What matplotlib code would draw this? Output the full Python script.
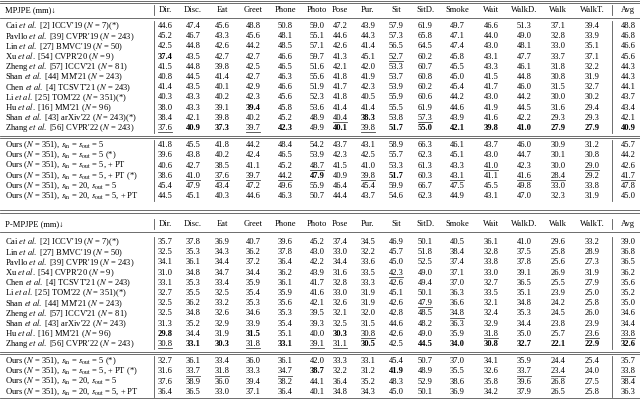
import matplotlib
matplotlib.use("Agg")
import matplotlib.pyplot as plt

plt.rcParams['font.family'] = ['Liberation Serif', 'DejaVu Serif']
plt.rcParams['mathtext.fontset'] = 'stix'

columns = ["Dir.", "Disc.", "Eat", "Greet", "Phone", "Photo", "Pose", "Pur.", "Sit", "SitD.",
           "Smoke", "Wait", "WalkD.", "Walk", "WalkT.", "Avg"]

EA = r"$\it{et\ al.}$"
def ref(name, num, venue, n, star=False):
    return f"{name} {EA} [{num}] {venue} ($N$ = {n})" + ("(*)" if star else "")
def ours(a, b, pt=False, star=False):
    if a == b:
        s = f"Ours ($N$ = 351), $s_{{\\rm in}}$ = $s_{{\\rm out}}$ = {a}"
    else:
        s = f"Ours ($N$ = 351), $s_{{\\rm in}}$ = {a}, $s_{{\\rm out}}$ = {b}"
    if pt: s += ", + PT"
    if star: s += " (*)"
    return s

mpjpe_methods = [ref("Cai", 2, "ICCV'19", 7, True), ref("Pavllo", 39, "CVPR'19", 243),
                 ref("Lin", 27, "BMVC'19", 50), ref("Xu", 54, "CVPR'20", 9),
                 ref("Zheng", 57, "ICCV'21", 81), ref("Shan", 44, "MM'21", 243),
                 ref("Chen", 4, "TCSVT'21", 243), ref("Li", 25, "TOM'22", 351, True),
                 ref("Hu", 16, "MM'21", 96), ref("Shan", 43, "arXiv'22", 243, True),
                 ref("Zhang", 56, "CVPR'22", 243),
                 ours(5, 5), ours(5, 5, star=True), ours(5, 5, pt=True), ours(5, 5, pt=True, star=True),
                 ours(20, 5), ours(20, 5, pt=True)]
mpjpe_values = [
 [44.6,47.4,45.6,48.8,50.8,59.0,47.2,43.9,57.9,61.9,49.7,46.6,51.3,37.1,39.4,48.8],
 [45.2,46.7,43.3,45.6,48.1,55.1,44.6,44.3,57.3,65.8,47.1,44.0,49.0,32.8,33.9,46.8],
 [42.5,44.8,42.6,44.2,48.5,57.1,42.6,41.4,56.5,64.5,47.4,43.0,48.1,33.0,35.1,46.6],
 [37.4,43.5,42.7,42.7,46.6,59.7,41.3,45.1,52.7,60.2,45.8,43.1,47.7,33.7,37.1,45.6],
 [41.5,44.8,39.8,42.5,46.5,51.6,42.1,42.0,53.3,60.7,45.5,43.3,46.1,31.8,32.2,44.3],
 [40.8,44.5,41.4,42.7,46.3,55.6,41.8,41.9,53.7,60.8,45.0,41.5,44.8,30.8,31.9,44.3],
 [41.4,43.5,40.1,42.9,46.6,51.9,41.7,42.3,53.9,60.2,45.4,41.7,46.0,31.5,32.7,44.1],
 [40.3,43.3,40.2,42.3,45.6,52.3,41.8,40.5,55.9,60.6,44.2,43.0,44.2,30.0,30.2,43.7],
 [38.0,43.3,39.1,39.4,45.8,53.6,41.4,41.4,55.5,61.9,44.6,41.9,44.5,31.6,29.4,43.4],
 [38.4,42.1,39.8,40.2,45.2,48.9,40.4,38.3,53.8,57.3,43.9,41.6,42.2,29.3,29.3,42.1],
 [37.6,40.9,37.3,39.7,42.3,49.9,40.1,39.8,51.7,55.0,42.1,39.8,41.0,27.9,27.9,40.9],
 [41.8,45.5,41.8,44.2,48.4,54.2,43.7,43.1,58.9,66.3,46.1,43.7,46.0,30.9,31.2,45.7],
 [39.6,43.8,40.2,42.4,46.5,53.9,42.3,42.5,55.7,62.3,45.1,43.0,44.7,30.1,30.8,44.2],
 [40.6,42.7,38.5,41.1,45.2,48.7,41.5,41.0,53.3,61.3,43.3,41.0,42.3,30.0,29.0,42.6],
 [38.6,41.0,37.6,39.7,44.2,47.9,40.9,39.8,51.7,60.3,43.1,41.1,41.6,28.4,29.2,41.7],
 [45.4,47.9,43.4,47.2,49.6,55.9,46.4,45.4,59.9,66.7,47.5,45.5,49.8,33.0,33.8,47.8],
 [44.5,45.1,40.3,44.6,46.3,50.7,44.4,43.7,54.6,62.3,44.9,43.1,47.0,32.3,31.9,45.0]]
mpjpe_bold = [(3,0),(8,3),(9,7),(10,1),(10,2),(10,4),(10,6),(10,8),(10,9),(10,10),(10,11),
              (10,12),(10,13),(10,14),(10,15),(14,5),(14,8)]
mpjpe_under = [(3,8),(9,6),(9,9),(10,0),(10,3),(10,7),(13,5),(13,11),(13,14),
               (14,1),(14,2),(14,3),(14,4),(14,7),(14,10),(14,12),(14,13),(14,15)]

pmpjpe_methods = [ref("Cai", 2, "ICCV'19", 7, True), ref("Lin", 27, "BMVC'19", 50),
                  ref("Pavllo", 39, "CVPR'19", 243), ref("Xu", 54, "CVPR'20", 9),
                  ref("Chen", 4, "TCSVT'21", 243), ref("Li", 25, "TOM'22", 351, True),
                  ref("Shan", 44, "MM'21", 243), ref("Zheng", 57, "ICCV'21", 81),
                  ref("Shan", 43, "arXiv'22", 243), ref("Hu", 16, "MM'21", 96),
                  ref("Zhang", 56, "CVPR'22", 243),
                  ours(5, 5, star=True), ours(5, 5, pt=True, star=True), ours(20, 5), ours(20, 5, pt=True)]
pmpjpe_values = [
 [35.7,37.8,36.9,40.7,39.6,45.2,37.4,34.5,46.9,50.1,40.5,36.1,41.0,29.6,33.2,39.0],
 [32.5,35.3,34.3,36.2,37.8,43.0,33.0,32.2,45.7,51.8,38.4,32.8,37.5,25.8,28.9,36.8],
 [34.1,36.1,34.4,37.2,36.4,42.2,34.4,33.6,45.0,52.5,37.4,33.8,37.8,25.6,27.3,36.5],
 [31.0,34.8,34.7,34.4,36.2,43.9,31.6,33.5,42.3,49.0,37.1,33.0,39.1,26.9,31.9,36.2],
 [33.1,35.3,33.4,35.9,36.1,41.7,32.8,33.3,42.6,49.4,37.0,32.7,36.5,25.5,27.9,35.6],
 [32.7,35.5,32.5,35.4,35.9,41.6,33.0,31.9,45.1,50.1,36.3,33.5,35.1,23.9,25.0,35.2],
 [32.5,36.2,33.2,35.3,35.6,42.1,32.6,31.9,42.6,47.9,36.6,32.1,34.8,24.2,25.8,35.0],
 [32.5,34.8,32.6,34.6,35.3,39.5,32.1,32.0,42.8,48.5,34.8,32.4,35.3,24.5,26.0,34.6],
 [31.3,35.2,32.9,33.9,35.4,39.3,32.5,31.5,44.6,48.2,36.3,32.9,34.4,23.8,23.9,34.4],
 [29.8,34.4,31.9,31.5,35.1,40.0,30.3,30.8,42.6,49.0,35.9,31.8,35.0,25.7,23.6,33.8],
 [30.8,33.1,30.3,31.8,33.1,39.1,31.1,30.5,42.5,44.5,34.0,30.8,32.7,22.1,22.9,32.6],
 [32.7,36.1,33.4,36.0,36.1,42.0,33.3,33.1,45.4,50.7,37.0,34.1,35.9,24.4,25.4,35.7],
 [31.6,33.7,31.8,33.3,34.7,38.7,32.2,31.2,41.9,48.9,35.5,32.6,33.7,23.4,24.0,33.8],
 [37.6,38.9,36.0,39.4,38.2,44.1,36.4,35.2,48.3,52.9,38.6,35.8,39.6,26.8,27.5,38.4],
 [36.4,36.5,33.0,37.1,36.4,40.1,34.8,34.3,45.0,50.1,36.9,34.2,37.9,26.5,25.8,36.3]]
pmpjpe_bold = [(9,0),(9,3),(9,6),(10,1),(10,2),(10,4),(10,7),(10,9),(10,10),(10,11),(10,12),
               (10,13),(10,14),(10,15),(12,5),(12,8)]
pmpjpe_under = [(3,8),(6,9),(7,10),(9,7),(9,11),(9,14),(9,15),(10,0),(10,3),(10,5),(10,6),
                (12,1),(12,2),(12,4),(12,12),(12,13),(12,15)]

W, H = 640, 404
fig = plt.figure(figsize=(W/100, H/100), dpi=100)
ax = fig.add_axes([0, 0, 1, 1])
ax.set_xlim(0, W); ax.set_ylim(H, 0); ax.axis('off')

col_x = [165, 193, 222, 253, 285, 317, 340, 368, 396, 425, 457, 491, 524, 558, 592, 628]
sep_x, avg_sep = 154, 612
FS = 6.1
GRAY = '#555555'

def section(title, methods, values, bold, under, y_head, y_first, n_ref, step, y_top_line, gap):
    ax.plot([0, W], [y_top_line, y_top_line], color=GRAY, lw=0.6)
    ax.plot([0, W], [y_top_line+2.5, y_top_line+2.5], color=GRAY, lw=0.6)
    ax.text(5, y_head, title, fontsize=FS, va='center', ha='left')
    for c, x in zip(columns, col_x):
        ax.text(x, y_head, c, fontsize=FS, va='center', ha='center')
    y_line1 = y_head + 8
    ax.plot([0, W], [y_line1, y_line1], color=GRAY, lw=0.6)
    ys = []
    y = y_first
    for i in range(len(methods)):
        if i == n_ref:
            ysep = y - step/2 + gap/2 - 1
            ax.plot([0, W], [ysep, ysep], color=GRAY, lw=0.6)
            ax.plot([0, W], [ysep+2, ysep+2], color=GRAY, lw=0.6)
            y += gap
        ys.append(y)
        y += step
    for i, (m, row) in enumerate(zip(methods, values)):
        yy = ys[i]
        ax.text(5, yy, m, fontsize=FS, va='center', ha='left')
        for j, v in enumerate(row):
            b = (i, j) in bold
            ax.text(col_x[j], yy, f"{v:.1f}", fontsize=FS, va='center', ha='center',
                    fontweight='bold' if b else 'normal')
            if (i, j) in under:
                ax.plot([col_x[j]-7, col_x[j]+7], [yy+4.3, yy+4.3], color='#444444', lw=0.6)
    for x in (sep_x, avg_sep):
        ax.plot([x, x], [y_head-5, y_head+5], color=GRAY, lw=0.6)
        ax.plot([x, x], [ys[0]-5, ys[n_ref-1]+5], color=GRAY, lw=0.6)
        ax.plot([x, x], [ys[n_ref]-5, ys[-1]+5], color=GRAY, lw=0.6)
    return ys[-1]

section("MPJPE (mm)↓", mpjpe_methods, mpjpe_values, mpjpe_bold, mpjpe_under,
        10, 26, 11, 10.2, 0.5, 7)
section("P-MPJPE (mm)↓", pmpjpe_methods, pmpjpe_values, pmpjpe_bold, pmpjpe_under,
        224, 242, 11, 10.2, 210, 7)
ax.plot([0, W], [398, 398], color=GRAY, lw=0.6)

fig.savefig("out.png", dpi=100)
